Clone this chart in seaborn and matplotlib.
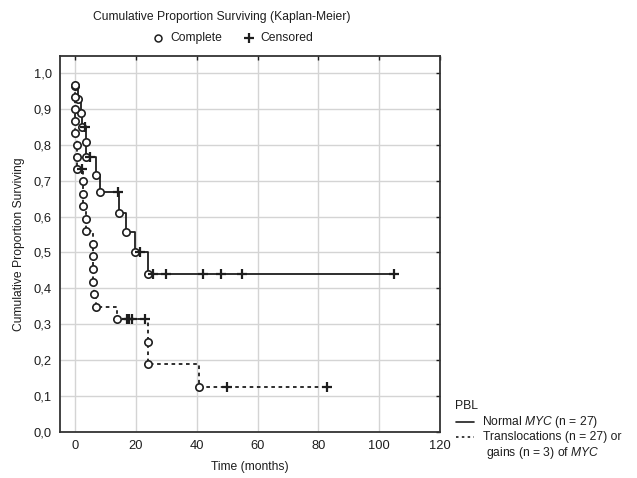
import numpy as np
import pandas as pd
import matplotlib
matplotlib.use("Agg")
import matplotlib.pyplot as plt
from matplotlib.lines import Line2D
import seaborn as sns

# ---- data ----
# Normal MYC (solid)
normal_event_t = [0, 0.9, 1.9, 2.2, 3.6, 3.6, 6.9, 8.0, 14.5, 16.7, 19.7, 23.8]
normal_event_s = [0.963, 0.926, 0.889, 0.850, 0.808, 0.765, 0.715, 0.667, 0.611, 0.556, 0.500, 0.440]
normal_cens_t = [3.3, 5.0, 14.0, 21.3, 25.7, 29.8, 41.9, 47.8, 54.9, 105.0]
normal_cens_s = [0.850, 0.765, 0.667, 0.500, 0.440, 0.440, 0.440, 0.440, 0.440, 0.440]

# Translocations / gains of MYC (dotted)
trans_event_t = [0, 0, 0, 0, 0, 0.5, 0.5, 0.5, 2.7, 2.7, 2.7, 3.6, 3.6,
                 5.8, 5.8, 5.8, 5.8, 6.3, 6.8, 13.8, 23.8, 23.8, 40.8]
trans_event_s = [0.967, 0.933, 0.900, 0.867, 0.833, 0.800, 0.767, 0.733, 0.698, 0.663,
                 0.629, 0.594, 0.559, 0.524, 0.489, 0.454, 0.419, 0.384, 0.349,
                 0.314, 0.251, 0.188, 0.126]
trans_cens_t = [2.2, 17.0, 17.8, 18.7, 23.0, 50.0, 82.7]
trans_cens_s = [0.733, 0.314, 0.314, 0.314, 0.314, 0.126, 0.126]

x_ticks = [0, 20, 40, 60, 80, 100, 120]
y_ticks = [0.0, 0.1, 0.2, 0.3, 0.4, 0.5, 0.6, 0.7, 0.8, 0.9, 1.0]
y_tick_labels = ["0,0", "0,1", "0,2", "0,3", "0,4", "0,5", "0,6", "0,7", "0,8", "0,9", "1,0"]

title_text = "Cumulative Proportion Surviving (Kaplan-Meier)"
legend_title = "PBL"
label_normal = "Normal $\\it{MYC}$ (n = 27)"
label_trans_1 = "Translocations (n = 27) or"
label_trans_2 = "gains (n = 3) of $\\it{MYC}$"

# ---- style ----
sns.set_theme(style="white")
plt.rcParams["font.family"] = ["Liberation Sans", "DejaVu Sans"]
plt.rcParams["mathtext.fontset"] = "custom"
plt.rcParams["mathtext.it"] = "Liberation Sans:italic"
plt.rcParams["mathtext.rm"] = "Liberation Sans"
FS = 8.7
TFS = 9.3
INK = "#1e1e1e"

W, H = 637, 478
fig = plt.figure(figsize=(W / 100, H / 100), dpi=100)
ax = fig.add_axes([60 / W, 1 - 432 / H, 380 / W, 376 / H])


def fx(px):
    return px / W


def fy(py):
    return 1 - py / H


def step_frame(ev_t, ev_s, end_t):
    t = list(ev_t) + [end_t]
    s = list(ev_s) + [ev_s[-1]]
    return pd.DataFrame({"t": t, "s": s})


df_n = step_frame(normal_event_t, normal_event_s, max(normal_cens_t))
df_t = step_frame(trans_event_t, trans_event_s, max(trans_cens_t))

sns.lineplot(data=df_n, x="t", y="s", ax=ax, estimator=None, sort=False,
             drawstyle="steps-post", color=INK, lw=1.3, zorder=3)
sns.lineplot(data=df_t, x="t", y="s", ax=ax, estimator=None, sort=False,
             drawstyle="steps-post", color=INK, lw=1.3, zorder=3,
             linestyle=(0, (2, 2)))

# event circles
for et, es in [(normal_event_t, normal_event_s), (trans_event_t, trans_event_s)]:
    sns.scatterplot(x=et, y=es, ax=ax, marker="o", s=28, facecolor="white",
                    edgecolor=INK, linewidth=1.2, zorder=4)
# censor crosses
for ct, cs in [(normal_cens_t, normal_cens_s), (trans_cens_t, trans_cens_s)]:
    sns.scatterplot(x=ct, y=cs, ax=ax, marker="+", s=45, color=INK,
                    linewidth=1.6, zorder=4)

ax.set_xlim(-5, 120)
ax.set_ylim(0, 1.047)
ax.set_xticks(x_ticks)
ax.set_yticks(y_ticks)
ax.set_yticklabels(y_tick_labels)
ax.grid(True, color="#d4d4d4", lw=1.0)
ax.set_axisbelow(True)
ax.tick_params(direction="in", length=3, width=1, top=True, right=True,
               labelsize=TFS, colors=INK, labelcolor=INK, pad=6)
for sp in ax.spines.values():
    sp.set_color("#333333")
    sp.set_linewidth(1.3)
    sp.set_visible(True)

ax.set_xlabel("Time (months)", fontsize=FS, color=INK, labelpad=6)
ax.set_ylabel("Cumulative Proportion Surviving", fontsize=FS, color=INK, labelpad=6)

# header
fig.text(fx(222), fy(17), title_text, ha="center", va="center", fontsize=FS, color=INK)
fig.add_artist(Line2D([fx(158)], [fy(38)], marker="o", markersize=5, markerfacecolor="white",
                      markeredgecolor=INK, markeredgewidth=1.1, linestyle="none"))
fig.text(fx(170), fy(38), "Complete", ha="left", va="center", fontsize=FS, color=INK)
fig.add_artist(Line2D([fx(249)], [fy(38)], marker="+", markersize=6.5, color=INK,
                      markeredgewidth=1.6, linestyle="none"))
fig.text(fx(260), fy(38), "Censored", ha="left", va="center", fontsize=FS, color=INK)

# legend (drawn by hand to match the layout)
fig.text(fx(455), fy(406), legend_title, ha="left", va="center", fontsize=FS, color=INK)
fig.add_artist(Line2D([fx(456), fx(474)], [fy(422), fy(422)], color=INK, lw=1.2))
fig.text(fx(482), fy(422), label_normal, ha="left", va="center", fontsize=FS, color=INK)
fig.add_artist(Line2D([fx(456), fx(474)], [fy(437), fy(437)], color=INK, lw=1.2,
                      linestyle=(0, (1.5, 2))))
fig.text(fx(483), fy(437), label_trans_1, ha="left", va="center", fontsize=FS, color=INK)
fig.text(fx(486), fy(453), label_trans_2, ha="left", va="center", fontsize=FS, color=INK)

fig.savefig("out.png", dpi=100)
